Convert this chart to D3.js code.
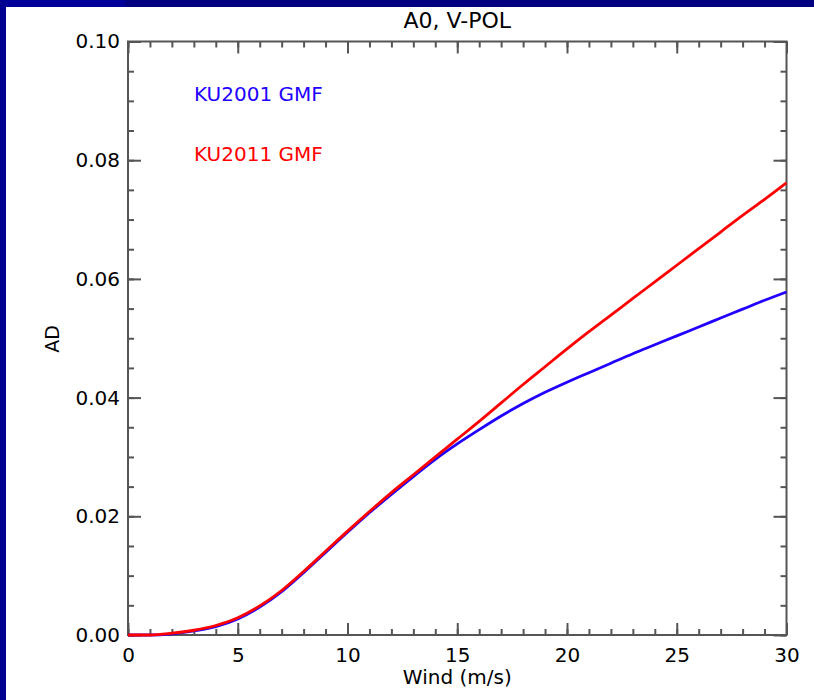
<!DOCTYPE html>
<html>
<head>
<meta charset="utf-8">
<script src="https://cdn.jsdelivr.net/npm/d3@7"></script>
<style>
  html, body { margin: 0; padding: 0; background: #000088; }
  svg { display: block; }
  text { font-family: "DejaVu Sans", sans-serif; fill: #000; }
</style>
</head>
<body>
<svg id="chart" width="814" height="700"></svg>
<script>
// ---- data ----
const winds = d3.range(0, 31, 1);
const ku2001 = [0.0000, 0.0000, 0.0002, 0.0007, 0.0014, 0.0027, 0.0047, 0.0073, 0.0105, 0.0139,
                0.0173, 0.0206, 0.0237, 0.0267, 0.0296, 0.0322, 0.0346, 0.0369, 0.0390, 0.0409,
                0.0426, 0.0442, 0.0458, 0.0474, 0.0489, 0.0504, 0.0519, 0.0534, 0.0549, 0.0564, 0.0578];
const ku2011 = [0.0000, 0.0000, 0.0003, 0.0008, 0.0016, 0.0029, 0.0049, 0.0075, 0.0107, 0.0141,
                0.0175, 0.0208, 0.0240, 0.0270, 0.0300, 0.0330, 0.0360, 0.0391, 0.0422, 0.0452,
                0.0482, 0.0511, 0.0539, 0.0567, 0.0595, 0.0623, 0.0651, 0.0679, 0.0707, 0.0734, 0.0762];
const seriesNames = ["KU2001 GMF", "KU2011 GMF"];
const seriesColors = ["#2200ff", "#ff0000"];
const xMajorTicks = d3.range(0, 31, 5);
const xMinorTicks = d3.range(0, 31, 1);
const yMajorTicks = [0.00, 0.02, 0.04, 0.06, 0.08, 0.10];
const yMinorTicks = d3.range(0, 0.1001, 0.005);
const title = "A0, V-POL";
const xLabel = "Wind (m/s)";
const yLabel = "AD";

// ---- layout ----
const svg = d3.select("#chart");
const W = 814, H = 700;
const L = 128, R = 786.5, T = 41.5, B = 635;

// background frame
svg.append("rect").attr("x", 0).attr("y", 0).attr("width", W).attr("height", H).attr("fill", "#000080");
svg.append("rect").attr("x", 0).attr("y", 0).attr("width", 125).attr("height", 7).attr("fill", "#000099");
svg.append("rect").attr("x", 0).attr("y", 0).attr("width", 6).attr("height", H).attr("fill", "#000090");
svg.append("rect").attr("x", 6).attr("y", 7).attr("width", W - 6).attr("height", H - 7).attr("fill", "#ffffff");

const x = d3.scaleLinear().domain([0, 30]).range([L, R]);
const y = d3.scaleLinear().domain([0, 0.10]).range([B, T]);

const axisColor = "#555";
function styleAxis(g) {
  g.select(".domain").remove();
  g.selectAll(".tick line").attr("stroke", axisColor).attr("stroke-width", 2);
  g.selectAll("text").attr("font-size", 20).attr("fill", "#000").attr("font-family", "DejaVu Sans, sans-serif");
}

// bottom
svg.append("g").attr("transform", `translate(0,${B})`)
  .call(d3.axisBottom(x).tickValues(xMinorTicks).tickFormat("").tickSizeInner(-6).tickSizeOuter(0)).call(styleAxis);
svg.append("g").attr("transform", `translate(0,${B})`)
  .call(d3.axisBottom(x).tickValues(xMajorTicks).tickFormat(d3.format("d")).tickSizeInner(-12).tickSizeOuter(0).tickPadding(13)).call(styleAxis);
// top
svg.append("g").attr("transform", `translate(0,${T})`)
  .call(d3.axisTop(x).tickValues(xMinorTicks).tickFormat("").tickSizeInner(-6).tickSizeOuter(0)).call(styleAxis);
svg.append("g").attr("transform", `translate(0,${T})`)
  .call(d3.axisTop(x).tickValues(xMajorTicks).tickFormat("").tickSizeInner(-12).tickSizeOuter(0)).call(styleAxis);
// left
svg.append("g").attr("transform", `translate(${L},0)`)
  .call(d3.axisLeft(y).tickValues(yMinorTicks).tickFormat("").tickSizeInner(-6).tickSizeOuter(0)).call(styleAxis);
svg.append("g").attr("transform", `translate(${L},0)`)
  .call(d3.axisLeft(y).tickValues(yMajorTicks).tickFormat(d3.format(".2f")).tickSizeInner(-13).tickSizeOuter(0).tickPadding(8)).call(styleAxis);
// right
svg.append("g").attr("transform", `translate(${R},0)`)
  .call(d3.axisRight(y).tickValues(yMinorTicks).tickFormat("").tickSizeInner(-6).tickSizeOuter(0)).call(styleAxis);
svg.append("g").attr("transform", `translate(${R},0)`)
  .call(d3.axisRight(y).tickValues(yMajorTicks).tickFormat("").tickSizeInner(-13).tickSizeOuter(0)).call(styleAxis);

// frame
svg.append("rect").attr("x", L).attr("y", T).attr("width", R - L).attr("height", B - T)
  .attr("fill", "none").attr("stroke", axisColor).attr("stroke-width", 2);

// lines
const line = d3.line().x((d, i) => x(winds[i])).y(d => y(d)).curve(d3.curveMonotoneX);
[ku2001, ku2011].forEach((s, i) => {
  svg.append("path").attr("d", line(s)).attr("fill", "none")
    .attr("stroke", seriesColors[i]).attr("stroke-width", 2.8).attr("stroke-linejoin", "round");
});

// legend texts
seriesNames.forEach((n, i) => {
  svg.append("text").attr("x", 194).attr("y", 101 + i * 60).attr("font-size", 20)
    .style("fill", seriesColors[i]).text(n);
});

// titles
svg.append("text").attr("x", (L + R) / 2).attr("y", 28).attr("text-anchor", "middle")
  .attr("font-size", 22).text(title);
svg.append("text").attr("x", (L + R) / 2).attr("y", 684).attr("text-anchor", "middle")
  .attr("font-size", 20).text(xLabel);
svg.append("text").attr("transform", "translate(59,339) rotate(-90)").attr("text-anchor", "middle")
  .attr("font-size", 19).text(yLabel);
</script>
</body>
</html>
